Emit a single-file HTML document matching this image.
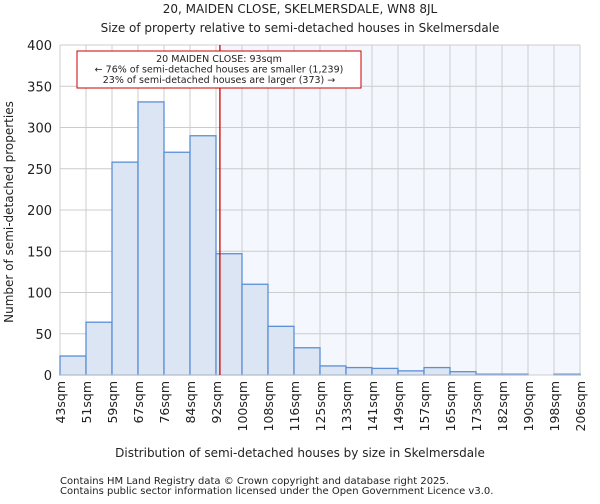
<!DOCTYPE html>
<html><head><meta charset="utf-8"><style>
body{margin:0;background:#fff;font-family:"DejaVu Sans","Liberation Sans",sans-serif;}
svg text{font-family:"DejaVu Sans","Liberation Sans",sans-serif;fill:#222;}
</style></head><body>
<svg id="c" width="600" height="500">
<text x="300" y="13" text-anchor="middle" font-size="12">20, MAIDEN CLOSE, SKELMERSDALE, WN8 8JL</text>
<text x="300" y="32" text-anchor="middle" font-size="12">Size of property relative to semi-detached houses in Skelmersdale</text>
<g id="plot"></g>
<text x="300" y="457" text-anchor="middle" font-size="12">Distribution of semi-detached houses by size in Skelmersdale</text>
<text transform="translate(13,212) rotate(-90)" text-anchor="middle" font-size="12">Number of semi-detached properties</text>
<text x="60" y="484" font-size="10" fill="#444">Contains HM Land Registry data © Crown copyright and database right 2025.</text>
<text x="60" y="494" font-size="10" fill="#444">Contains public sector information licensed under the Open Government Licence v3.0.</text>
</svg>
<script>
const binLabels=["43sqm","51sqm","59sqm","67sqm","76sqm","84sqm","92sqm","100sqm","108sqm","116sqm","125sqm","133sqm","141sqm","149sqm","157sqm","165sqm","173sqm","182sqm","190sqm","198sqm","206sqm"];
const counts=[23,64,258,331,270,290,147,110,59,33,11,9,8,5,9,4,1,1,0,1];
const yTicks=[0,50,100,150,200,250,300,350,400];
const markerBin=6.15;
const X0=60,X1=580,Y0=375,Y1=45,YMAX=400;
const bw=(X1-X0)/counts.length;
const xs=i=>X0+i*bw;
const ys=v=>Y0-(v/YMAX)*(Y0-Y1);
const NS="http://www.w3.org/2000/svg";
const g=document.getElementById('plot');
function mk(t,a,p){const e=document.createElementNS(NS,t);for(const k in a)e.setAttribute(k,a[k]);(p||g).appendChild(e);return e;}
const mx=xs(markerBin);
const shade=mk('rect',{x:mx,y:Y1,width:X1-mx,height:Y0-Y1,fill:'#f4f7fe'});


yTicks.forEach(v=>{
 const l=mk('line',{x1:X0,x2:X1,y1:ys(v),y2:ys(v),stroke:'#cccccc','stroke-width':1});
 
 
 const t=mk('text',{x:X0-8,y:ys(v)+5,'text-anchor':'end','font-size':13});
 t.textContent=v;
 
 
});
binLabels.forEach((s,i)=>{
 const l=mk('line',{x1:xs(i),x2:xs(i),y1:Y1,y2:Y0,stroke:'#cccccc','stroke-width':1});
 
 
 const t=mk('text',{transform:`translate(${xs(i)+5},${Y0+6}) rotate(-90)`,'text-anchor':'end','font-size':12.5});
 t.textContent=s;
 
 
});
counts.forEach((v,i)=>{
 const r=mk('rect',{x:xs(i),y:ys(v),width:bw,height:Y0-ys(v),fill:'#dce5f3',stroke:'#5b8fd6','stroke-width':1.3});
 
 
});
const ax=mk('line',{x1:X0,x2:X1,y1:Y0,y2:Y0,stroke:'#cccccc'});


const ml=mk('line',{x1:mx,x2:mx,y1:Y1,y2:Y0,stroke:'#d00000','stroke-width':1.3});


const box=mk('rect',{x:77,y:51,width:284,height:37,fill:'#fff',stroke:'#cc0000','stroke-width':1});


["20 MAIDEN CLOSE: 93sqm","← 76% of semi-detached houses are smaller (1,239)","23% of semi-detached houses are larger (373) →"].forEach((s,i)=>{
 const t=mk('text',{x:219,y:62+i*10.5,'text-anchor':'middle','font-size':9.5});
 t.textContent=s;
 
 
});
</script>
</body></html>
